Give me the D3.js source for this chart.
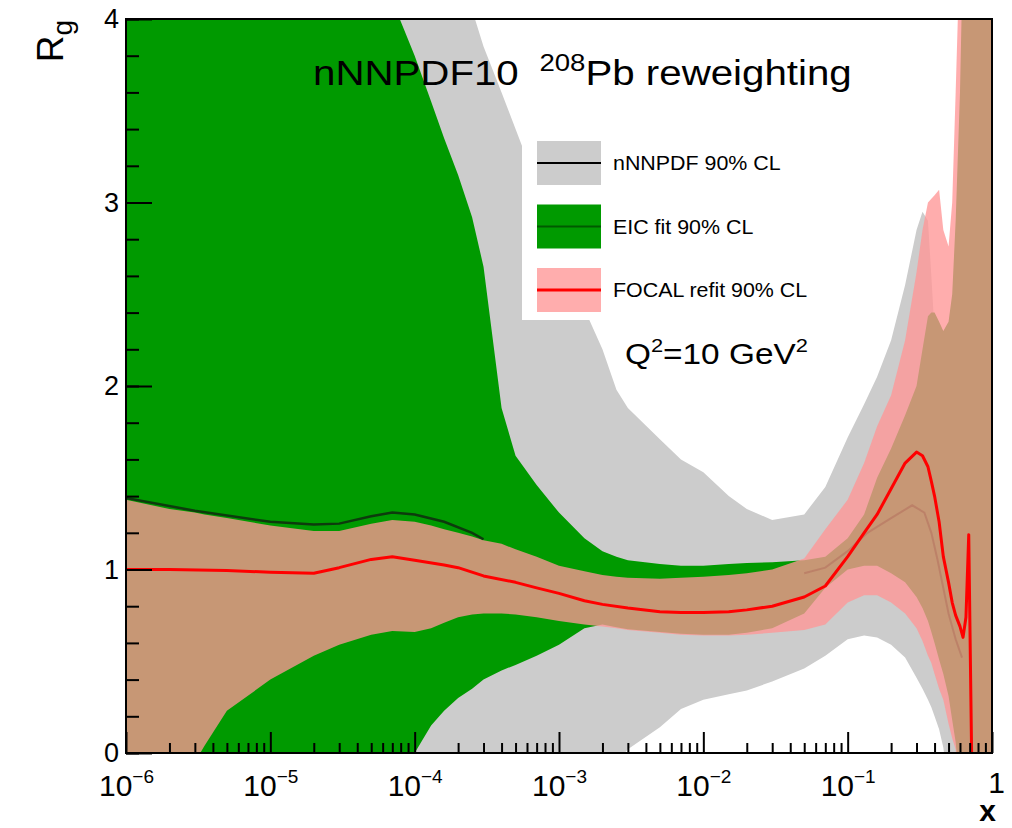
<!DOCTYPE html>
<html>
<head>
<meta charset="utf-8">
<script src="https://cdn.jsdelivr.net/npm/d3@7"></script>
<style>
  body { margin: 0; background: #fff; }
  text { font-family: "Liberation Sans", Arial, Helvetica, sans-serif; fill: #000; }
</style>
</head>
<body>
<div id="container"></div>
<script>
const width = 1012;
const height = 828;
const frame = {left: 126, top: 19, right: 992, bottom: 753};

// common x grid for the three bands
const xGrid = [1e-6, 2e-6, 3e-6, 3.5e-6, 5e-6, 1e-5, 2e-5, 3e-5, 5e-5, 7e-5,
               1e-4, 1.3e-4, 1.6e-4, 2e-4, 2.5e-4, 3e-4, 4e-4, 5e-4, 7e-4, 1e-3,
               1.5e-3, 2e-3, 2.5e-3, 3e-3, 5e-3, 7e-3, 1e-2, 1.5e-2, 2e-2, 3e-2,
               5e-2, 7e-2, 0.1, 0.13, 0.16, 0.2, 0.25, 0.3, 0.33, 0.36,
               0.38, 0.4, 0.43, 0.46, 0.5, 0.53, 0.56, 0.6, 0.63, 0.66,
               0.7, 0.75, 0.8, 0.9, 1.0];

// nNNPDF 90% CL (grey)
const nnpdfHi = [4.4, 4.4, 4.4, 4.4, 4.4, 4.4, 4.4, 4.4, 4.4, 4.4,
                 4.4, 4.4, 4.4, 4.4, 4.05, 3.85, 3.6, 3.4, 3.1, 2.8,
                 2.42, 2.2, 1.98, 1.88, 1.71, 1.60, 1.53, 1.40, 1.33, 1.27,
                 1.30, 1.45, 1.72, 1.90, 2.05, 2.25, 2.55, 2.85, 2.95, 2.9,
                 2.6, 2.3, 2.1, 2.0, 2.0, 2.0, 2.0, 2.0, 2.0, 2.0,
                 2.0, 2.0, 2.0, 2.0, 2.0];
const nnpdfLo = [-0.2, -0.2, -0.2, -0.2, -0.2, -0.2, -0.2, -0.2, -0.2, -0.2,
                 -0.2, -0.2, -0.2, -0.2, -0.2, -0.2, -0.2, -0.2, -0.2, -0.2,
                 -0.2, -0.2, -0.05, 0.02, 0.14, 0.24, 0.29, 0.32, 0.34, 0.39,
                 0.46, 0.53, 0.62, 0.64, 0.63, 0.59, 0.52, 0.41, 0.35, 0.29,
                 0.25, 0.20, 0.13, 0.03, -0.2, -0.2, -0.2, -0.2, -0.2, -0.2,
                 -0.2, -0.2, -0.2, -0.2, -0.2];

// EIC fit 90% CL (green)
const eicHi = [4.4, 4.4, 4.4, 4.4, 4.4, 4.4, 4.4, 4.4, 4.4, 4.1,
               3.8, 3.55, 3.35, 3.15, 2.92, 2.65, 1.88, 1.62, 1.46, 1.31,
               1.17, 1.10, 1.07, 1.05, 1.03, 1.02, 1.02, 1.03, 1.035, 1.04,
               1.05, 1.07, 1.17, 1.30, 1.50, 1.66, 1.84, 2.0, 2.2, 2.38,
               2.4, 2.4, 2.35, 2.3, 2.35, 2.5, 2.9, 3.6, 4.4, 4.4,
               4.4, 4.4, 4.4, 4.4, 4.4];
const eicLo = [-0.2, -0.2, -0.2, -0.2, -0.2, -0.2, -0.2, -0.2, -0.2, -0.2,
               0.0, 0.15, 0.23, 0.30, 0.35, 0.40, 0.45, 0.48, 0.53, 0.59,
               0.68, 0.70, 0.685, 0.675, 0.66, 0.65, 0.645, 0.645, 0.655, 0.68,
               0.76, 0.90, 1.0, 1.02, 1.02, 0.98, 0.93, 0.85, 0.79, 0.72,
               0.66, 0.60, 0.51, 0.43, 0.31, 0.18, 0.06, -0.2, -0.2, -0.2,
               -0.2, -0.2, -0.2, -0.2, -0.2];

// FOCAL refit 90% CL (transparent pink)
const focalHi = [1.38, 1.33, 1.31, 1.30, 1.28, 1.24, 1.21, 1.21, 1.25, 1.27,
                 1.26, 1.24, 1.22, 1.20, 1.18, 1.16, 1.14, 1.11, 1.07, 1.02,
                 0.99, 0.97, 0.96, 0.955, 0.95, 0.955, 0.96, 0.97, 0.98, 1.00,
                 1.06, 1.22, 1.38, 1.58, 1.78, 1.95, 2.25, 2.62, 2.85, 3.0,
                 3.02, 3.04, 3.07, 2.85, 2.76, 3.0, 3.6, 4.4, 4.4, 4.4,
                 4.4, 4.4, 4.4, 4.4, 4.4];
const focalLo = [-0.2, -0.2, -0.05, 0.04, 0.23, 0.40, 0.53, 0.59, 0.645, 0.665,
                 0.66, 0.68, 0.71, 0.74, 0.755, 0.76, 0.76, 0.755, 0.74, 0.72,
                 0.70, 0.69, 0.68, 0.67, 0.655, 0.645, 0.64, 0.64, 0.645, 0.655,
                 0.67, 0.70, 0.82, 0.86, 0.86, 0.82, 0.76, 0.68, 0.61, 0.53,
                 0.49, 0.43, 0.35, 0.29, 0.16, 0.08, 0.02, -0.2, -0.2, -0.2,
                 -0.2, -0.2, -0.2, -0.2, -0.2];

// FOCAL refit central (red)
const focalX = [1e-6, 2e-6, 5e-6, 1e-5, 2e-5, 3e-5, 5e-5, 7e-5, 1e-4, 1.6e-4,
                2e-4, 3e-4, 5e-4, 7e-4, 1e-3, 1.5e-3, 2e-3, 3e-3, 5e-3, 7e-3,
                1e-2, 1.5e-2, 2e-2, 3e-2, 5e-2, 7e-2, 0.1, 0.13, 0.16, 0.2,
                0.25, 0.3, 0.33, 0.36, 0.38, 0.4, 0.43, 0.46, 0.5, 0.53,
                0.56, 0.6, 0.63, 0.66, 0.69, 0.725];
const focalCentral = [1.0, 1.0, 0.995, 0.985, 0.98, 1.01, 1.055, 1.07, 1.05, 1.025,
                      1.01, 0.965, 0.93, 0.90, 0.87, 0.83, 0.81, 0.79, 0.77, 0.765,
                      0.765, 0.77, 0.78, 0.80, 0.85, 0.91, 1.07, 1.2, 1.3, 1.44,
                      1.58, 1.64, 1.62, 1.56, 1.48, 1.40, 1.26, 1.07, 0.93, 0.82,
                      0.75, 0.69, 0.63, 0.74, 1.19, -0.1];

// dark line along the top of the band at small x
const darkX = [1e-6, 3e-6, 1e-5, 2e-5, 3e-5, 5e-5, 7e-5, 1e-4, 1.6e-4, 2.5e-4, 3e-4];
const darkY = [1.39, 1.32, 1.26, 1.245, 1.25, 1.29, 1.31, 1.30, 1.26, 1.2, 1.165];

// faint central line inside the band at large x
const faintX = [0.05, 0.07, 0.1, 0.137, 0.2, 0.28, 0.34, 0.38, 0.42, 0.5, 0.56, 0.62];
const faintY = [0.98, 1.01, 1.1, 1.2, 1.28, 1.35, 1.31, 1.2, 1.05, 0.76, 0.62, 0.52];

const yMajor = [0, 1, 2, 3, 4];
const xMajor = [1e-6, 1e-5, 1e-4, 1e-3, 1e-2, 1e-1, 1];
const xExponents = ["\u22126", "\u22125", "\u22124", "\u22123", "\u22122", "\u22121", ""];

const legendItems = [
    {label: "nNNPDF 90% CL", fill: "#cccccc", line: "#000000", lw: 2},
    {label: "EIC fit 90% CL", fill: "#009a00", line: "#005a00", lw: 2},
    {label: "FOCAL refit 90% CL", fill: "rgba(255,150,150,0.78)", line: "#ff0000", lw: 3}
];

const svg = d3.select("div#container")
    .append("svg")
    .attr("width", width)
    .attr("height", height);

const xScale = d3.scaleLog().domain([1e-6, 1]).range([frame.left, frame.right]);
const yScale = d3.scaleLinear().domain([0, 4]).range([frame.bottom, frame.top]);

svg.append("clipPath").attr("id", "plotclip")
    .append("rect")
    .attr("x", frame.left).attr("y", frame.top)
    .attr("width", frame.right - frame.left)
    .attr("height", frame.bottom - frame.top);

const plot = svg.append("g").attr("clip-path", "url(#plotclip)");

function band(lo, hi) {
    return xGrid.map(function(d, i) { return {x: d, lo: lo[i], hi: hi[i]}; });
}

const area = d3.area()
    .x(function(d) { return xScale(d.x); })
    .y0(function(d) { return yScale(d.lo); })
    .y1(function(d) { return yScale(d.hi); });

const line = d3.line()
    .x(function(d) { return xScale(d[0]); })
    .y(function(d) { return yScale(d[1]); });

plot.append("path").datum(band(nnpdfLo, nnpdfHi))
    .attr("d", area).attr("fill", "#cccccc");
plot.append("path").datum(band(eicLo, eicHi))
    .attr("d", area).attr("fill", "#009a00");
plot.append("path").datum(band(focalLo, focalHi))
    .attr("d", area).attr("fill", "rgba(255,150,150,0.78)");

plot.append("path").datum(d3.zip(faintX, faintY))
    .attr("d", line).attr("fill", "none")
    .attr("stroke", "rgba(170,90,80,0.35)").attr("stroke-width", 2);

plot.append("path").datum(d3.zip(darkX, darkY))
    .attr("d", line).attr("fill", "none")
    .attr("stroke", "#0d3b0d").attr("stroke-width", 2.5);

plot.append("path").datum(d3.zip(focalX, focalCentral))
    .attr("d", line).attr("fill", "none")
    .attr("stroke", "#ff0000").attr("stroke-width", 3)
    .attr("stroke-linejoin", "round");

// legend
const legend = svg.append("g");
legend.append("rect")
    .attr("x", 522).attr("y", 128).attr("width", 310).attr("height", 192)
    .attr("fill", "#ffffff");

legendItems.forEach(function(d, i) {
    const cy = 163 + i * 63.5;
    legend.append("rect")
        .attr("x", 537).attr("y", cy - 22).attr("width", 64).attr("height", 44)
        .attr("fill", d.fill);
    legend.append("line")
        .attr("x1", 537).attr("x2", 601).attr("y1", cy).attr("y2", cy)
        .attr("stroke", d.line).attr("stroke-width", d.lw);
    legend.append("text")
        .attr("transform", "translate(613," + (cy + 7) + ") scale(1.07,1)")
        .attr("font-size", 20)
        .text(d.label);
});

// title
const title = svg.append("text")
    .attr("transform", "translate(313,85) scale(1.15,1)")
    .attr("font-size", 35);
title.append("tspan").text("nNNPDF10");
title.append("tspan").attr("dx", 18).attr("dy", -14).attr("font-size", 24).text("208");
title.append("tspan").attr("dy", 14).text("Pb reweighting");

// Q^2 label
const qlab = svg.append("text")
    .attr("transform", "translate(625,364) scale(1.15,1)")
    .attr("font-size", 29);
qlab.append("tspan").text("Q");
qlab.append("tspan").attr("dy", -12).attr("font-size", 19).text("2");
qlab.append("tspan").attr("dy", 12).text("=10 GeV");
qlab.append("tspan").attr("dy", -12).attr("font-size", 19).text("2");

// axes
const minorX = [];
for (let e = -6; e < 0; e++) {
    for (let m = 2; m <= 9; m++) minorX.push(m * Math.pow(10, e));
}

svg.append("g")
    .attr("transform", "translate(0," + frame.bottom + ")")
    .call(d3.axisBottom(xScale).tickValues(minorX).tickSize(-10).tickFormat(""))
    .call(function(g) { g.select(".domain").remove(); })
    .call(function(g) { g.selectAll("line").attr("stroke", "#000").attr("stroke-width", 2); });

const xAxis = svg.append("g")
    .attr("transform", "translate(0," + frame.bottom + ")")
    .call(d3.axisBottom(xScale).tickValues(xMajor).tickSize(-21).tickPadding(22)
        .tickFormat(function() { return ""; }))
    .call(function(g) { g.select(".domain").remove(); })
    .call(function(g) { g.selectAll("line").attr("stroke", "#000").attr("stroke-width", 2); });

xAxis.selectAll(".tick text")
    .attr("font-size", 30)
    .attr("font-family", "Liberation Sans, Arial, sans-serif")
    .attr("fill", "#000")
    .each(function(d, i) {
        const t = d3.select(this);
        if (d === 1) {
            t.attr("dx", 4).attr("y", 19).text("1");
        } else {
            t.append("tspan").text("10");
            t.append("tspan").attr("dy", -13).attr("font-size", 19).text(xExponents[i]);
        }
    });

svg.append("g")
    .attr("transform", "translate(" + frame.left + ",0)")
    .call(d3.axisLeft(yScale).tickValues(d3.range(0, 4.01, 0.2)).tickSize(-13).tickFormat(""))
    .call(function(g) { g.select(".domain").remove(); })
    .call(function(g) { g.selectAll("line").attr("stroke", "#000").attr("stroke-width", 2); });

svg.append("g")
    .attr("transform", "translate(" + frame.left + ",0)")
    .call(d3.axisLeft(yScale).tickValues(yMajor).tickSize(-26).tickPadding(7)
        .tickFormat(d3.format("d")))
    .call(function(g) { g.select(".domain").remove(); })
    .call(function(g) { g.selectAll("line").attr("stroke", "#000").attr("stroke-width", 2); })
    .call(function(g) {
        g.selectAll("text")
            .attr("font-size", 27)
            .attr("font-family", "Liberation Sans, Arial, sans-serif")
            .attr("fill", "#000");
    });

// frame
svg.append("rect")
    .attr("x", frame.left).attr("y", frame.top)
    .attr("width", frame.right - frame.left)
    .attr("height", frame.bottom - frame.top)
    .attr("fill", "none").attr("stroke", "#000").attr("stroke-width", 2);

// axis titles
svg.append("text")
    .attr("x", 996).attr("y", 821)
    .attr("text-anchor", "end")
    .attr("font-size", 30).attr("font-weight", "bold")
    .text("x");

const ylab = svg.append("text")
    .attr("transform", "translate(63,20) rotate(-90)")
    .attr("text-anchor", "end")
    .attr("font-size", 37);
ylab.append("tspan").text("R");
ylab.append("tspan").attr("dy", 9).attr("font-size", 28).text("g");
</script>
</body>
</html>
